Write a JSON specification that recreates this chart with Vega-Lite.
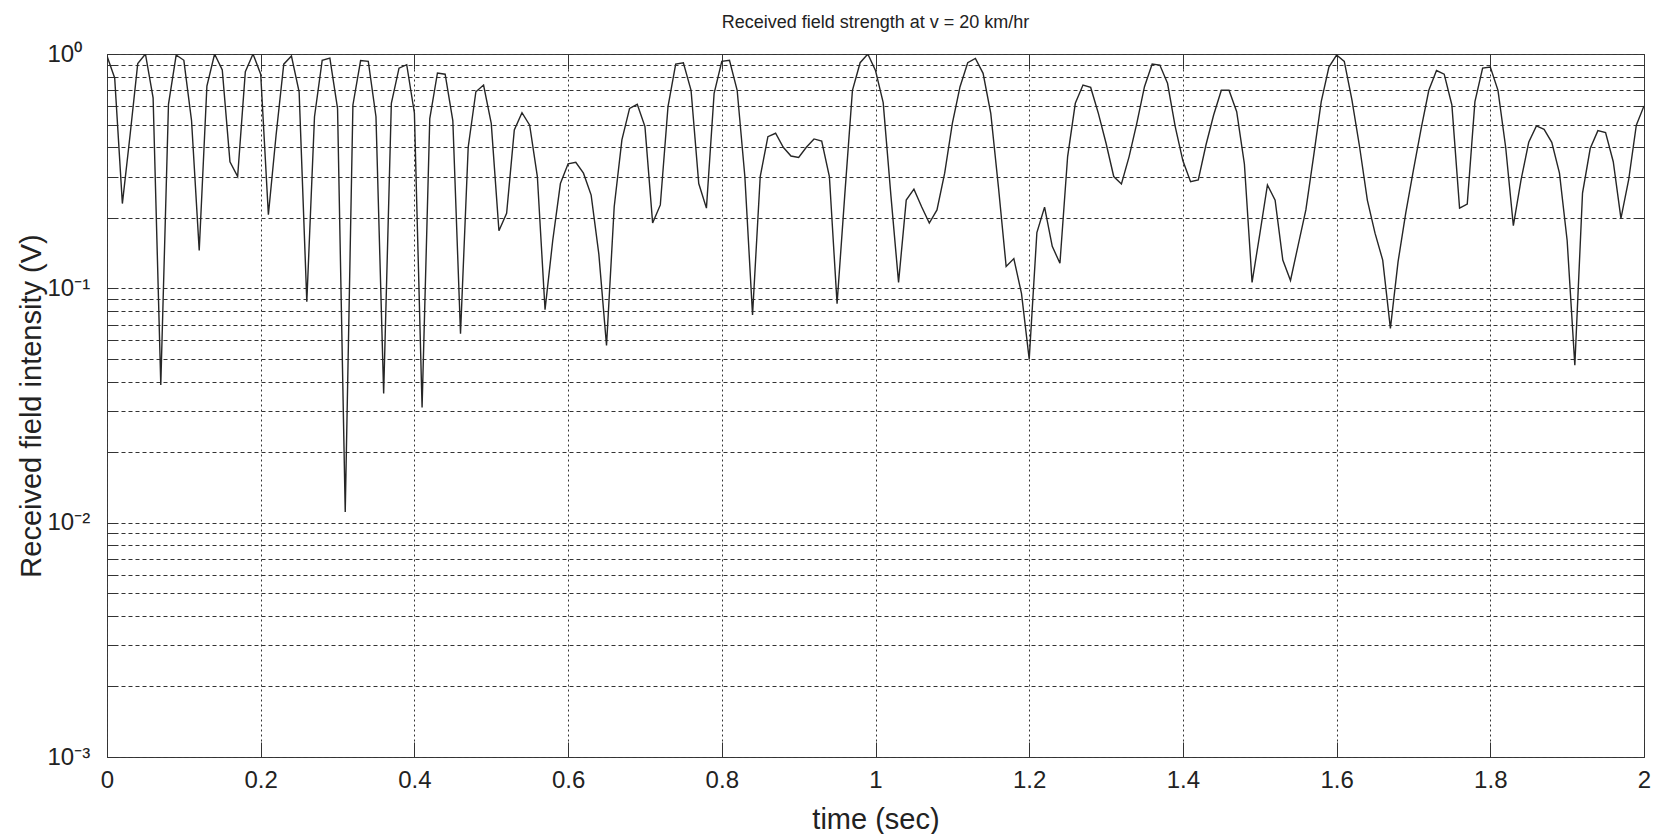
{
  "$schema": "https://vega.github.io/schema/vega-lite/v6.json",
  "width": 1537,
  "height": 703,
  "autosize": {"type": "none"},
  "padding": {"left": 107, "top": 54, "right": 21, "bottom": 77},
  "background": "white",
  "config": {"font": "Liberation Sans", "view": {"stroke": "#3a3a3a", "strokeWidth": 1}},
  "title": {"text": "Received field strength at v = 20 km/hr", "fontSize": 18, "fontWeight": "normal", "color": "#222", "offset": 10, "anchor": "middle"},
  "data": {"values": [
    {"t":0.00,"v":0.98},{"t":0.01,"v":0.79},{"t":0.02,"v":0.23},{"t":0.03,"v":0.45},{"t":0.04,"v":0.91},
    {"t":0.05,"v":1.0},{"t":0.06,"v":0.65},{"t":0.07,"v":0.0387},{"t":0.08,"v":0.61},{"t":0.09,"v":0.99},
    {"t":0.10,"v":0.94},{"t":0.11,"v":0.52},{"t":0.12,"v":0.145},{"t":0.13,"v":0.73},{"t":0.14,"v":1.0},
    {"t":0.15,"v":0.855},{"t":0.16,"v":0.347},{"t":0.17,"v":0.30},{"t":0.18,"v":0.84},{"t":0.19,"v":1.0},
    {"t":0.20,"v":0.82},{"t":0.21,"v":0.206},{"t":0.22,"v":0.45},{"t":0.23,"v":0.905},{"t":0.24,"v":0.98},
    {"t":0.25,"v":0.69},{"t":0.26,"v":0.0877},{"t":0.27,"v":0.54},{"t":0.28,"v":0.94},{"t":0.29,"v":0.96},
    {"t":0.30,"v":0.586},{"t":0.31,"v":0.0111},{"t":0.32,"v":0.606},{"t":0.33,"v":0.937},{"t":0.34,"v":0.93},
    {"t":0.35,"v":0.54},{"t":0.36,"v":0.0356},{"t":0.37,"v":0.616},{"t":0.38,"v":0.87},{"t":0.39,"v":0.90},
    {"t":0.40,"v":0.56},{"t":0.41,"v":0.031},{"t":0.42,"v":0.53},{"t":0.43,"v":0.83},{"t":0.44,"v":0.82},
    {"t":0.45,"v":0.52},{"t":0.46,"v":0.064},{"t":0.47,"v":0.40},{"t":0.48,"v":0.69},{"t":0.49,"v":0.737},
    {"t":0.50,"v":0.506},{"t":0.51,"v":0.176},{"t":0.52,"v":0.209},{"t":0.53,"v":0.474},{"t":0.54,"v":0.562},
    {"t":0.55,"v":0.497},{"t":0.56,"v":0.30},{"t":0.57,"v":0.081},{"t":0.58,"v":0.16},{"t":0.59,"v":0.28},
    {"t":0.60,"v":0.34},{"t":0.61,"v":0.345},{"t":0.62,"v":0.31},{"t":0.63,"v":0.25},{"t":0.64,"v":0.14},
    {"t":0.65,"v":0.057},{"t":0.66,"v":0.223},{"t":0.67,"v":0.43},{"t":0.68,"v":0.586},{"t":0.69,"v":0.61},
    {"t":0.70,"v":0.49},{"t":0.71,"v":0.19},{"t":0.72,"v":0.227},{"t":0.73,"v":0.596},{"t":0.74,"v":0.906},
    {"t":0.75,"v":0.918},{"t":0.76,"v":0.70},{"t":0.77,"v":0.28},{"t":0.78,"v":0.22},{"t":0.79,"v":0.68},
    {"t":0.80,"v":0.93},{"t":0.81,"v":0.94},{"t":0.82,"v":0.70},{"t":0.83,"v":0.30},{"t":0.84,"v":0.077},
    {"t":0.85,"v":0.30},{"t":0.86,"v":0.444},{"t":0.87,"v":0.459},{"t":0.88,"v":0.40},{"t":0.89,"v":0.367},
    {"t":0.90,"v":0.362},{"t":0.91,"v":0.40},{"t":0.92,"v":0.434},{"t":0.93,"v":0.425},{"t":0.94,"v":0.30},
    {"t":0.95,"v":0.086},{"t":0.96,"v":0.25},{"t":0.97,"v":0.70},{"t":0.98,"v":0.918},{"t":0.99,"v":1.0},
    {"t":1.00,"v":0.85},{"t":1.01,"v":0.62},{"t":1.02,"v":0.25},{"t":1.03,"v":0.106},{"t":1.04,"v":0.238},
    {"t":1.05,"v":0.265},{"t":1.06,"v":0.223},{"t":1.07,"v":0.19},{"t":1.08,"v":0.216},{"t":1.09,"v":0.31},
    {"t":1.10,"v":0.506},{"t":1.11,"v":0.725},{"t":1.12,"v":0.918},{"t":1.13,"v":0.958},{"t":1.14,"v":0.827},
    {"t":1.15,"v":0.558},{"t":1.16,"v":0.27},{"t":1.17,"v":0.124},{"t":1.18,"v":0.134},{"t":1.19,"v":0.095},
    {"t":1.20,"v":0.0498},{"t":1.21,"v":0.173},{"t":1.22,"v":0.222},{"t":1.23,"v":0.151},{"t":1.24,"v":0.128},
    {"t":1.25,"v":0.365},{"t":1.26,"v":0.616},{"t":1.27,"v":0.737},{"t":1.28,"v":0.72},{"t":1.29,"v":0.558},
    {"t":1.30,"v":0.416},{"t":1.31,"v":0.30},{"t":1.32,"v":0.279},{"t":1.33,"v":0.365},{"t":1.34,"v":0.506},
    {"t":1.35,"v":0.725},{"t":1.36,"v":0.906},{"t":1.37,"v":0.897},{"t":1.38,"v":0.75},{"t":1.39,"v":0.49},
    {"t":1.40,"v":0.35},{"t":1.41,"v":0.285},{"t":1.42,"v":0.29},{"t":1.43,"v":0.409},{"t":1.44,"v":0.549},
    {"t":1.45,"v":0.70},{"t":1.46,"v":0.70},{"t":1.47,"v":0.567},{"t":1.48,"v":0.34},{"t":1.49,"v":0.106},
    {"t":1.50,"v":0.17},{"t":1.51,"v":0.276},{"t":1.52,"v":0.238},{"t":1.53,"v":0.132},{"t":1.54,"v":0.108},
    {"t":1.55,"v":0.153},{"t":1.56,"v":0.216},{"t":1.57,"v":0.365},{"t":1.58,"v":0.626},{"t":1.59,"v":0.88},
    {"t":1.60,"v":0.99},{"t":1.61,"v":0.93},{"t":1.62,"v":0.636},{"t":1.63,"v":0.40},{"t":1.64,"v":0.238},
    {"t":1.65,"v":0.172},{"t":1.66,"v":0.132},{"t":1.67,"v":0.0675},{"t":1.68,"v":0.13},{"t":1.69,"v":0.21},
    {"t":1.70,"v":0.32},{"t":1.71,"v":0.48},{"t":1.72,"v":0.70},{"t":1.73,"v":0.85},{"t":1.74,"v":0.82},
    {"t":1.75,"v":0.606},{"t":1.76,"v":0.22},{"t":1.77,"v":0.229},{"t":1.78,"v":0.626},{"t":1.79,"v":0.87},
    {"t":1.80,"v":0.88},{"t":1.81,"v":0.70},{"t":1.82,"v":0.40},{"t":1.83,"v":0.185},{"t":1.84,"v":0.29},
    {"t":1.85,"v":0.42},{"t":1.86,"v":0.493},{"t":1.87,"v":0.477},{"t":1.88,"v":0.42},{"t":1.89,"v":0.31},
    {"t":1.90,"v":0.16},{"t":1.91,"v":0.047},{"t":1.92,"v":0.255},{"t":1.93,"v":0.395},{"t":1.94,"v":0.471},
    {"t":1.95,"v":0.462},{"t":1.96,"v":0.347},{"t":1.97,"v":0.199},{"t":1.98,"v":0.29},{"t":1.99,"v":0.497},
    {"t":2.00,"v":0.60}
  ]},
  "layer": [
    {
      "mark": {"type": "line", "color": "#262626", "strokeWidth": 1.4, "clip": true},
      "encoding": {
        "x": {"field": "t", "type": "quantitative",
          "scale": {"domain": [0, 2], "nice": false, "zero": false},
          "axis": {"orient": "bottom", "values": [0, 0.2, 0.4, 0.6, 0.8, 1, 1.2, 1.4, 1.6, 1.8, 2],
            "format": "~g", "grid": true, "gridDash": [2, 3], "gridColor": "#333", "gridWidth": 1,
            "domain": false, "ticks": true, "tickSize": -15, "tickColor": "#333", "tickWidth": 1,
            "labelPadding": 26, "labelFontSize": 24, "labelColor": "#222", "labelFlush": false,
            "title": "time (sec)", "titleFontSize": 29, "titleFontWeight": "normal", "titleColor": "#222", "titlePadding": 13}},
        "y": {"field": "v", "type": "quantitative",
          "scale": {"type": "log", "domain": [0.001, 1], "nice": false},
          "axis": {"orient": "left",
            "values": [0.001,0.002,0.003,0.004,0.005,0.006,0.007,0.008,0.009,0.01,0.02,0.03,0.04,0.05,0.06,0.07,0.08,0.09,0.1,0.2,0.3,0.4,0.5,0.6,0.7,0.8,0.9,1],
            "labelExpr": "datum.value == 1 ? '10⁰' : datum.value == 0.1 ? '10⁻¹' : datum.value == 0.01 ? '10⁻²' : datum.value == 0.001 ? '10⁻³' : ''",
            "grid": true, "gridDash": [4, 3], "gridColor": "#333", "gridWidth": 1,
            "domain": false, "ticks": true, "tickSize": -8, "tickColor": "#333",
            "labelAlign": "left", "labelPadding": 68, "labelFontSize": 24, "labelColor": "#222", "labelFlush": false, "labelOverlap": false,
            "title": "Received field intensity (V)", "titleFontSize": 29, "titleFontWeight": "normal", "titleColor": "#222", "titlePadding": 1}}
      }
    },
    {
      "mark": {"type": "point", "opacity": 0},
      "encoding": {
        "x": {"field": "t", "type": "quantitative",
          "axis": {"orient": "top", "values": [0.2, 0.4, 0.6, 0.8, 1, 1.2, 1.4, 1.6, 1.8],
            "labels": false, "grid": false, "domain": false, "tickSize": -15, "tickColor": "#333", "title": null}},
        "y": {"field": "v", "type": "quantitative",
          "axis": {"orient": "right",
            "values": [0.002,0.003,0.004,0.005,0.006,0.007,0.008,0.009,0.01,0.02,0.03,0.04,0.05,0.06,0.07,0.08,0.09,0.1,0.2,0.3,0.4,0.5,0.6,0.7,0.8,0.9],
            "labels": false, "grid": false, "domain": false, "tickSize": -8, "tickColor": "#333", "title": null}}
      }
    }
  ],
  "resolve": {"axis": {"x": "independent", "y": "independent"}}
}
